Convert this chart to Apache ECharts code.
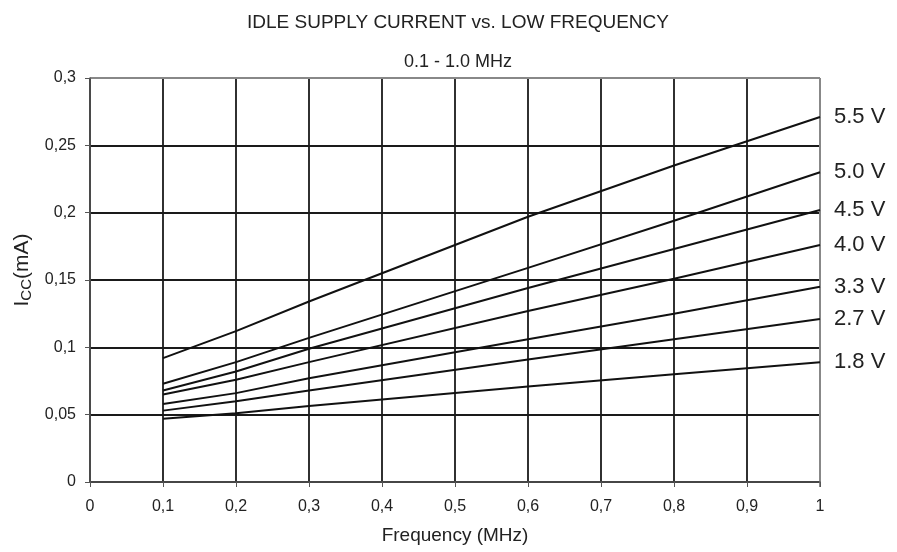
<!DOCTYPE html>
<html>
<head>
<meta charset="utf-8">
<script src="https://cdn.jsdelivr.net/npm/echarts@6/dist/echarts.min.js"></script>
<style>
  html, body { margin: 0; padding: 0; background: #fff; }
  #chart { width: 897px; height: 552px; }
</style>
</head>
<body>
<div id="chart"></div>
<script>
// frequencies (MHz) where the curves were read
const freqs = [0.1, 0.2, 0.3, 0.6, 0.8, 1.0];

// Icc (mA) per supply voltage
const v55 = [0.092, 0.112, 0.134, 0.197, 0.235, 0.271];
const v50 = [0.073, 0.089, 0.107, 0.159, 0.194, 0.230];
const v45 = [0.068, 0.082, 0.099, 0.144, 0.173, 0.202];
const v40 = [0.065, 0.076, 0.089, 0.127, 0.151, 0.176];
const v33 = [0.058, 0.066, 0.077, 0.106, 0.125, 0.145];
const v27 = [0.053, 0.060, 0.068, 0.091, 0.106, 0.121];
const v18 = [0.047, 0.051, 0.0565, 0.071, 0.080, 0.089];

const seriesNames = ['5.5 V', '5.0 V', '4.5 V', '4.0 V', '3.3 V', '2.7 V', '1.8 V'];
const seriesValues = [v55, v50, v45, v40, v33, v27, v18];

const chart = echarts.init(document.getElementById('chart'));

const comma = (v) => String(+v.toFixed(2)).replace('.', ',');

const option = {
    animation: false,
    textStyle: { fontFamily: 'Liberation Sans, Arial, sans-serif' },
    title: [
        {
            text: 'IDLE SUPPLY CURRENT vs. LOW FREQUENCY',
            left: 453, top: 8, textAlign: 'center',
            textStyle: { fontSize: 19, fontWeight: 'normal', color: '#222' }
        },
        {
            text: '0.1 - 1.0 MHz',
            left: 453, top: 48, textAlign: 'center',
            textStyle: { fontSize: 18, fontWeight: 'normal', color: '#222' }
        }
    ],
    grid: { left: 90, right: 77, top: 78, bottom: 70 },
    xAxis: {
        type: 'value',
        min: 0, max: 1, interval: 0.1,
        name: 'Frequency (MHz)',
        nameLocation: 'middle',
        nameGap: 44,
        nameTextStyle: { fontSize: 19, color: '#222' },
        axisLine: { onZero: false, lineStyle: { color: '#555', width: 1.5 } },
        axisTick: { show: true, length: 5, lineStyle: { color: '#555' } },
        axisLabel: { fontSize: 16, color: '#222', margin: 17, formatter: comma },
        splitLine: { show: true, lineStyle: { color: '#1a1a1a', width: 1.8 } }
    },
    yAxis: {
        type: 'value',
        min: 0, max: 0.3, interval: 0.05,
        name: '{i|I}{s|CC}{i|(mA)}',
        nameLocation: 'middle',
        nameGap: 56,
        nameRotate: 90,
        nameTextStyle: {
            padding: [0, 0, 0, 20],
            rich: {
                i: { fontSize: 21, color: '#222' },
                s: { fontSize: 15, color: '#222', verticalAlign: 'bottom', padding: [8, 0, 0, 0] }
            }
        },
        axisLine: { show: true, lineStyle: { color: '#555', width: 1.5 } },
        axisTick: { show: true, length: 5, lineStyle: { color: '#555' } },
        axisLabel: { fontSize: 16, color: '#222', margin: 14, formatter: comma },
        splitLine: { show: true, lineStyle: { color: '#1a1a1a', width: 1.8 } }
    },
    series: seriesNames.map((name, i) => ({
        name: name,
        type: 'line',
        symbol: 'none',
        data: freqs.map((f, j) => [f, seriesValues[i][j]]),
        lineStyle: { color: '#111', width: 2 },
        endLabel: {
            show: true,
            formatter: '{a}',
            distance: 14,
            fontSize: 22,
            color: '#222'
        }
    }))
};

chart.setOption(option);

// right border of the plot
const r = chart.convertToPixel({ gridIndex: 0 }, [1, 0.3]);
const b = chart.convertToPixel({ gridIndex: 0 }, [1, 0]);
chart.setOption({
    graphic: [{
        type: 'line',
        shape: { x1: r[0], y1: r[1], x2: b[0], y2: b[1] + 5 },
        style: { stroke: '#888', lineWidth: 2 }
    }, {
        type: 'line',
        shape: { x1: 90, y1: r[1], x2: r[0], y2: r[1] },
        style: { stroke: '#888', lineWidth: 2 }
    }]
});
</script>
</body>
</html>
